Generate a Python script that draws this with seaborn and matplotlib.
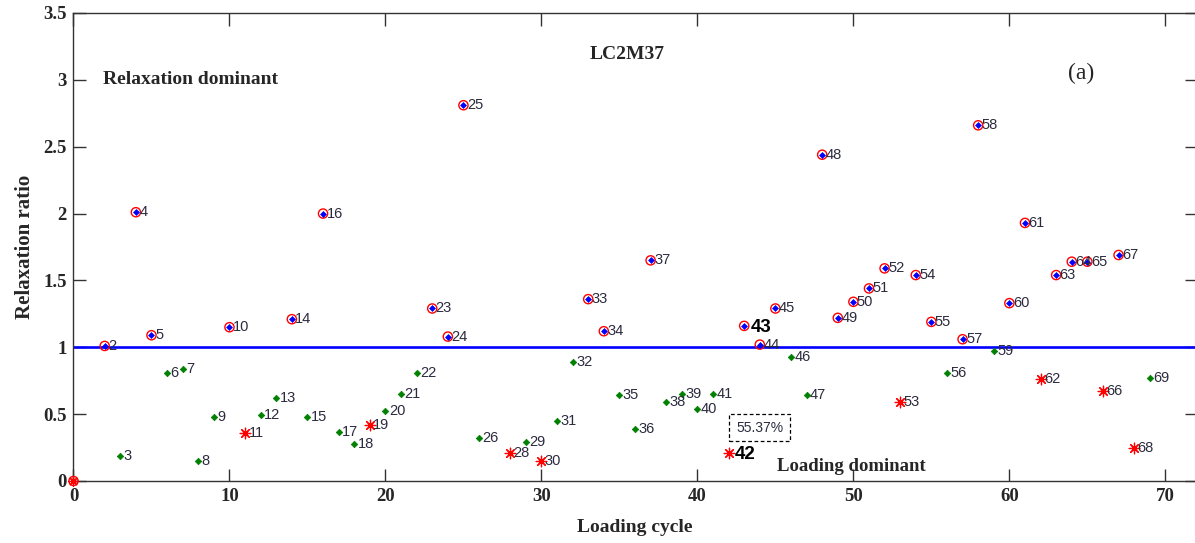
import matplotlib
matplotlib.use("Agg")
import matplotlib.pyplot as plt
import seaborn as sns
import pandas as pd

# Relaxation-dominant cycles (ratio > 1)
relax_cycle = [2, 4, 5, 10, 14, 16, 23, 24, 25, 33, 34, 37, 43, 44, 45, 48, 49, 50,
               51, 52, 54, 55, 57, 58, 60, 61, 63, 64, 65, 67]
relax_ratio = [1.01, 2.01, 1.09, 1.15, 1.21, 2.00, 1.29, 1.08, 2.81, 1.36, 1.12, 1.65,
               1.16, 1.02, 1.29, 2.44, 1.22, 1.34, 1.44, 1.59, 1.54, 1.19, 1.06, 2.66,
               1.33, 1.93, 1.54, 1.64, 1.64, 1.69]

# Loading-dominant cycles (ratio < 1)
load_cycle = [3, 6, 7, 8, 9, 12, 13, 15, 17, 18, 20, 21, 22, 26, 29, 31, 32, 35, 36,
              38, 39, 40, 41, 46, 47, 56, 59, 69]
load_ratio = [0.19, 0.81, 0.84, 0.15, 0.48, 0.49, 0.62, 0.48, 0.37, 0.28, 0.52, 0.65,
              0.81, 0.32, 0.29, 0.45, 0.89, 0.64, 0.39, 0.59, 0.65, 0.54, 0.65, 0.93,
              0.64, 0.81, 0.97, 0.77]

# Cycles following a relaxation-dominant one that switch back to loading
switch_cycle = [11, 19, 28, 30, 42, 53, 62, 66, 68]
switch_ratio = [0.36, 0.42, 0.21, 0.15, 0.21, 0.59, 0.76, 0.67, 0.25]

origin_cycle = [0]
origin_ratio = [0.0]

x_ticks = [0, 10, 20, 30, 40, 50, 60, 70]
y_ticks = [0, 0.5, 1, 1.5, 2, 2.5, 3, 3.5]
y_tick_labels = ["0", "0.5", "1", "1.5", "2", "2.5", "3", "3.5"]

sample_name = "LC2M37"
panel_tag = "(a)"
share_text = "55.37%"
bold_cycles = [42, 43]

relax_df = pd.DataFrame({"cycle": relax_cycle, "ratio": relax_ratio})
load_df = pd.DataFrame({"cycle": load_cycle, "ratio": load_ratio})
switch_df = pd.DataFrame({"cycle": switch_cycle, "ratio": switch_ratio})
origin_df = pd.DataFrame({"cycle": origin_cycle, "ratio": origin_ratio})

sns.set_theme(style="ticks")
plt.rcParams["font.family"] = ["Liberation Serif", "DejaVu Serif"]

fig = plt.figure(figsize=(11.95, 5.43), dpi=100)
ax = fig.add_axes([0.0615, 0.1142, 0.9398, 0.8619])

ax.axhline(1.0, color="#0000ff", lw=1.9, zorder=1)

# Relaxation dominant: red open circle with a blue diamond core
sns.scatterplot(data=relax_df, x="cycle", y="ratio", ax=ax, marker="o", s=44,
                facecolor="none", edgecolor="#ff0000", linewidth=1.0, zorder=3)
sns.scatterplot(data=relax_df, x="cycle", y="ratio", ax=ax, marker="D", s=9,
                color="#0000ff", edgecolor="#0000ff", linewidth=0.5, zorder=4)

# Loading dominant: small green diamonds
sns.scatterplot(data=load_df, x="cycle", y="ratio", ax=ax, marker="D", s=11,
                color="#008000", edgecolor="#008000", linewidth=0.5, zorder=3)

# Switch-back cycles: red asterisks
sns.scatterplot(data=switch_df, x="cycle", y="ratio", ax=ax, marker=(8, 2, 0), s=58,
                color="#ff0000", edgecolor="#ff0000", linewidth=0.9, zorder=3)

# Starting point
sns.scatterplot(data=origin_df, x="cycle", y="ratio", ax=ax, marker="o", s=44,
                facecolor="none", edgecolor="#ff0000", linewidth=1.0, zorder=5,
                clip_on=False)
sns.scatterplot(data=origin_df, x="cycle", y="ratio", ax=ax, marker=(8, 2, 0), s=44,
                color="#ff0000", edgecolor="#ff0000", linewidth=0.9, zorder=5,
                clip_on=False)

label_color = "#2b2b3f"
all_df = pd.concat([relax_df, load_df, switch_df], ignore_index=True)
for c, r in zip(all_df["cycle"], all_df["ratio"]):
    if c in bold_cycles:
        ax.annotate(str(c), (c, r), xytext=(4.5, -1), textcoords="offset points",
                    ha="left", va="center", fontsize=13.5, fontweight="bold",
                    family=["Liberation Sans"], color="black", zorder=6)
    else:
        ax.annotate(str(c), (c, r), xytext=(2.5, 0), textcoords="offset points",
                    ha="left", va="center", fontsize=10.5,
                    family=["Liberation Sans"], color=label_color, zorder=6)

ax.text(44.0, 0.40, share_text, ha="center", va="center", fontsize=10,
        family=["Liberation Sans"], color=label_color,
        bbox=dict(boxstyle="square,pad=0.5", facecolor="white",
                  edgecolor="black", linestyle=(0, (3, 2)), linewidth=0.9))

ax.text(35.5, 3.19, sample_name, ha="center", va="center", fontsize=14,
        fontweight="bold")
ax.text(64.6, 3.05, panel_tag, ha="center", va="center", fontsize=17)
ax.text(1.9, 3.0, "Relaxation dominant", ha="left", va="center", fontsize=14,
        fontweight="bold")
ax.text(45.1, 0.11, "Loading dominant", ha="left", va="center", fontsize=13.5,
        fontweight="bold")

ax.set_xlim(0, 72)
ax.set_ylim(0, 3.5)
ax.set_xticks(x_ticks)
ax.set_xticklabels([str(t) for t in x_ticks])
ax.set_yticks(y_ticks)
ax.set_yticklabels(y_tick_labels)
ax.tick_params(direction="in", length=9, width=1.0, color="#333333",
               labelsize=13.5, pad=5, top=True, right=True)
for lab in ax.get_xticklabels() + ax.get_yticklabels():
    lab.set_fontweight("bold")

for sp in ax.spines.values():
    sp.set_visible(True)
    sp.set_color("#333333")
    sp.set_linewidth(1.0)

ax.set_xlabel("Loading cycle", fontsize=14, fontweight="bold", labelpad=10)
ax.set_ylabel("Relaxation ratio", fontsize=15, fontweight="bold", labelpad=6)

fig.savefig("out.png", dpi=100)
